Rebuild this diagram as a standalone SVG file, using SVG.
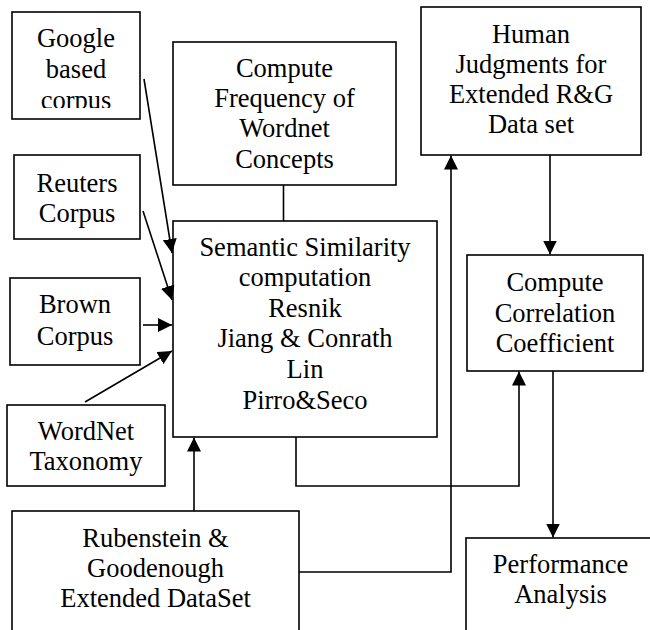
<svg xmlns="http://www.w3.org/2000/svg" width="650" height="630" viewBox="0 0 650 630">
  <style>
    .box { fill: #ffffff; stroke: #000000; stroke-width: 1.6; }
    .lbl { font-family: 'Liberation Serif', 'Tinos', 'DejaVu Serif', serif; font-size: 26.5px; fill: #000000; text-anchor: middle; }
    .wire { fill: none; stroke: #000000; stroke-width: 1.6; }
  </style>
  <defs>
    <marker id="arrow" viewBox="0 0 14 14" markerWidth="14" markerHeight="14" refX="14" refY="7" orient="auto" markerUnits="userSpaceOnUse">
      <path d="M0,0 L14,7 L0,14 z" fill="#000000"/>
    </marker>
    <clipPath id="googleClip">
      <rect x="12" y="12" width="128" height="96"/>
    </clipPath>
  </defs>
  <rect x="0" y="0" width="650" height="630" fill="#ffffff"/>

  <g id="google">
    <rect class="box" x="12" y="12" width="128" height="107"/>
    <g clip-path="url(#googleClip)">
      <text class="lbl" x="76" y="47">Google</text>
      <text class="lbl" x="76" y="78">based</text>
      <text class="lbl" x="76" y="109">corpus</text>
    </g>
  </g>

  <g id="frequency">
    <rect class="box" x="173" y="42" width="223" height="143"/>
    <text class="lbl" x="284.5" y="77">Compute</text>
    <text class="lbl" x="284.5" y="107">Frequency of</text>
    <text class="lbl" x="284.5" y="137">Wordnet</text>
    <text class="lbl" x="284.5" y="168">Concepts</text>
  </g>

  <g id="human">
    <rect class="box" x="421" y="7" width="220" height="148"/>
    <text class="lbl" x="531" y="43">Human</text>
    <text class="lbl" x="531" y="73">Judgments for</text>
    <text class="lbl" x="531" y="103">Extended R&amp;G</text>
    <text class="lbl" x="531" y="133">Data set</text>
  </g>

  <g id="semantic">
    <rect class="box" x="173" y="221" width="264" height="216"/>
    <text class="lbl" x="305" y="256">Semantic Similarity</text>
    <text class="lbl" x="305" y="286">computation</text>
    <text class="lbl" x="305" y="317">Resnik</text>
    <text class="lbl" x="305" y="347">Jiang &amp; Conrath</text>
    <text class="lbl" x="305" y="378">Lin</text>
    <text class="lbl" x="305" y="409">Pirro&amp;Seco</text>
  </g>

  <g id="reuters">
    <rect class="box" x="14" y="155" width="126" height="84"/>
    <text class="lbl" x="77" y="192">Reuters</text>
    <text class="lbl" x="77" y="222">Corpus</text>
  </g>

  <g id="correlation">
    <rect class="box" x="467" y="255" width="176" height="116"/>
    <text class="lbl" x="555" y="291">Compute</text>
    <text class="lbl" x="555" y="322">Correlation</text>
    <text class="lbl" x="555" y="352">Coefficient</text>
  </g>

  <g id="brown">
    <rect class="box" x="10" y="278" width="130" height="87"/>
    <text class="lbl" x="75" y="313">Brown</text>
    <text class="lbl" x="75" y="345">Corpus</text>
  </g>

  <g id="wordnet">
    <rect class="box" x="7" y="405" width="158" height="81"/>
    <text class="lbl" x="86" y="440">WordNet</text>
    <text class="lbl" x="86" y="470">Taxonomy</text>
  </g>

  <g id="rubenstein">
    <rect class="box" x="12" y="511" width="287" height="130"/>
    <text class="lbl" x="155.5" y="547">Rubenstein &amp;</text>
    <text class="lbl" x="155.5" y="577">Goodenough</text>
    <text class="lbl" x="155.5" y="607">Extended DataSet</text>
  </g>

  <g id="performance">
    <rect class="box" x="466" y="538" width="189" height="100"/>
    <text class="lbl" x="560.5" y="573">Performance</text>
    <text class="lbl" x="560.5" y="603">Analysis</text>
  </g>

  <g id="connectors">
    <line class="wire" x1="144" y1="79" x2="172" y2="253" marker-end="url(#arrow)"/>
    <line class="wire" x1="143" y1="211" x2="172" y2="300" marker-end="url(#arrow)"/>
    <line class="wire" x1="143" y1="325" x2="172" y2="325" marker-end="url(#arrow)"/>
    <line class="wire" x1="85" y1="402" x2="172" y2="351" marker-end="url(#arrow)"/>
    <line class="wire" x1="283.5" y1="185" x2="283.5" y2="221"/>
    <line class="wire" x1="194" y1="511" x2="194" y2="437.5" marker-end="url(#arrow)"/>
    <path class="wire" d="M296,437 V486 H519 V371.5" marker-end="url(#arrow)"/>
    <path class="wire" d="M299,572 H451 V155.5" marker-end="url(#arrow)"/>
    <line class="wire" x1="550" y1="155" x2="550" y2="254.5" marker-end="url(#arrow)"/>
    <line class="wire" x1="553" y1="371" x2="553" y2="537.5" marker-end="url(#arrow)"/>
  </g>
</svg>
